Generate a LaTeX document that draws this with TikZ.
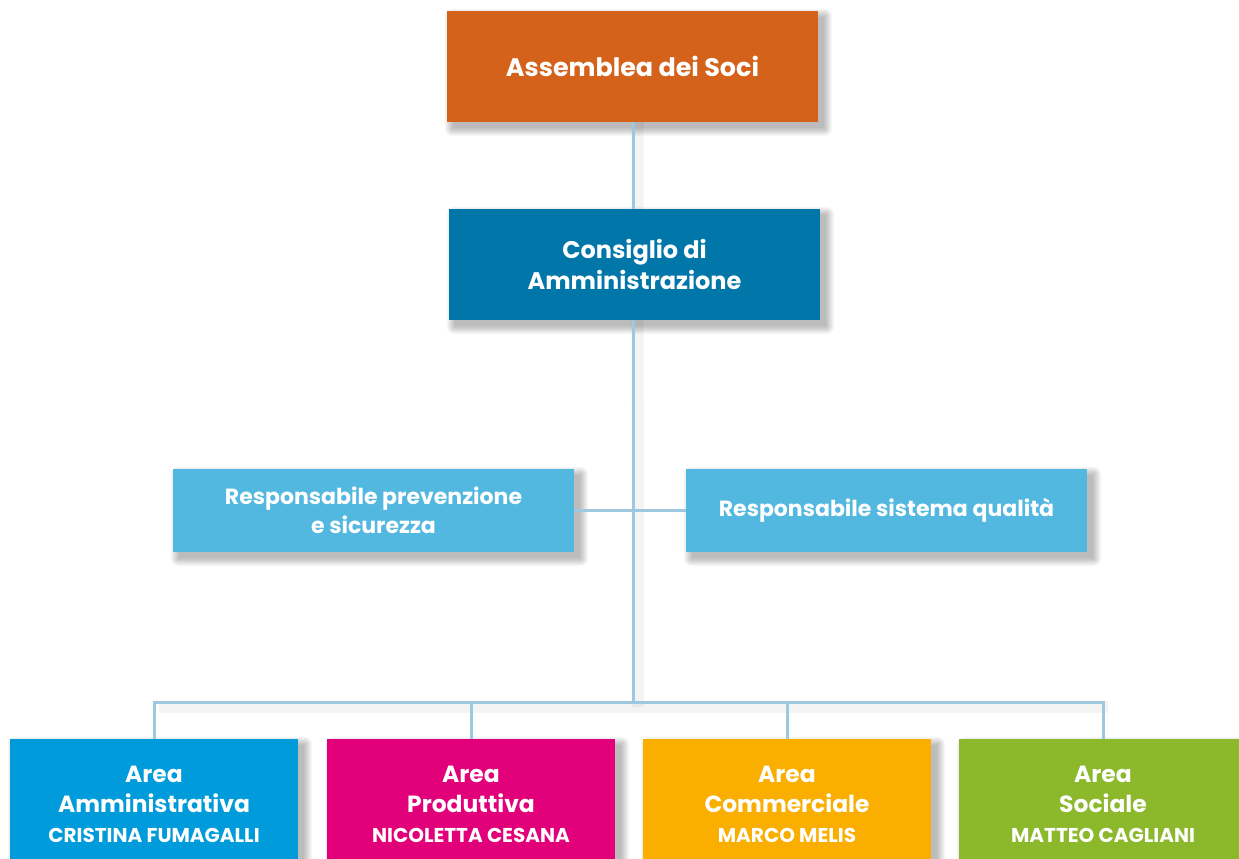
\documentclass[tikz,border=0pt]{standalone}
\usepackage{fontspec}
\setmainfont{Poppins}
\usetikzlibrary{calc}
\pgfdeclarelayer{bg}
\pgfsetlayers{bg,main}
\definecolor{cOrange}{HTML}{D4621A}
\definecolor{cDark}{HTML}{0077A8}
\definecolor{cLight}{HTML}{52B8E0}
\definecolor{cAmm}{HTML}{009BDA}
\definecolor{cProd}{HTML}{E2007A}
\definecolor{cComm}{HTML}{F9AE00}
\definecolor{cSoc}{HTML}{8CB82B}
\definecolor{cLine}{HTML}{9DC8E0}
\newcommand\nmfont{\fontsize{20}{30}\selectfont}
\newcommand\softshadow[1]{%
  \begin{pgfonlayer}{bg}
  \foreach \i in {0,...,8}{%
    \fill[black, opacity=0.032, rounded corners=\i pt]
      ($(#1.south west)+(6-\i,-6-\i)$) rectangle ($(#1.north east)+(6+\i,-6+\i)$);}
  \end{pgfonlayer}}
\tikzset{
  x=1pt, y=1pt,
  box/.style={draw=none, text=white, align=center, font=\bfseries, inner sep=0pt},
  topbox/.style={box, minimum width=371pt, minimum height=111pt, font=\fontsize{24}{31}\selectfont\bfseries},
  respbox/.style={box, fill=cLight, minimum width=401pt, minimum height=83pt, font=\fontsize{22}{29}\selectfont\bfseries},
  areabox/.style={box, minimum width=288pt, minimum height=130pt, font=\fontsize{23.4}{30}\selectfont\bfseries},
  conn/.style={draw=cLine, line width=3pt},
  connshadow/.style={draw=black, opacity=0.045, line width=12pt}
}
\begin{document}
\begin{tikzpicture}
\clip (0,0) rectangle (1239,-859);
\begin{pgfonlayer}{bg}
\fill[white] (0,0) rectangle (1239,-859);
\end{pgfonlayer}
\coordinate (hub) at (633,-702);
\node[topbox, fill=cOrange, font=\fontsize{25.4}{31}\selectfont\bfseries] (as) at (632.5,-66.5) {Assemblea dei Soci};
\node[topbox, fill=cDark] (cda) at (634.5,-264.5) {Consiglio di\\Amministrazione};
\node[respbox] (rp) at (373.5,-510.5) {Responsabile prevenzione\\e sicurezza};
\node[respbox] (rq) at (886.5,-510.5) {Responsabile sistema qualità};
\node[areabox, fill=cAmm] (b1) at (154,-804) {Area\\Amministrativa\\{\nmfont CRISTINA FUMAGALLI}};
\node[areabox, fill=cProd] (b2) at (471,-804) {Area\\Produttiva\\{\nmfont NICOLETTA CESANA}};
\node[areabox, fill=cComm] (b3) at (787,-804) {Area\\Commerciale\\{\nmfont MARCO MELIS}};
\node[areabox, fill=cSoc] (b4) at (1103,-804) {Area\\Sociale\\{\nmfont MATTEO CAGLIANI}};
\softshadow{as}
\softshadow{cda}
\softshadow{rp}
\softshadow{rq}
\softshadow{b1}
\softshadow{b2}
\softshadow{b3}
\softshadow{b4}
\begin{pgfonlayer}{bg}
\draw[connshadow] ($(as.south)+(5,0)$) -- ($(hub)+(5,-5)$);
\draw[connshadow] ($(b1.north |- hub)+(5,-5)$) -- ($(b4.north |- hub)+(5,-5)$);
\end{pgfonlayer}
\draw[conn] (hub |- as.south) -- (hub |- cda.north);
\draw[conn] (hub |- cda.south) -- (hub);
\draw[conn] (rp.east) -- (rq.west);
\draw[conn] (b1.north) |- (hub) -| (b4.north);
\draw[conn] (b2.north) -- (b2.north |- hub);
\draw[conn] (b3.north) -- (b3.north |- hub);
\end{tikzpicture}
\end{document}
